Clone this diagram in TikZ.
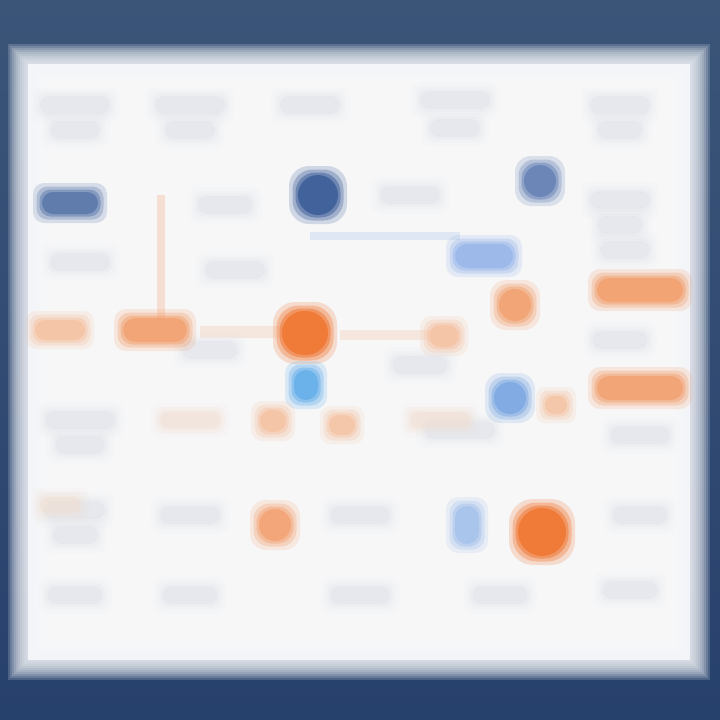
\documentclass[tikz,border=0pt]{standalone}
\usetikzlibrary{shadings}
\definecolor{frameTop}{HTML}{3B5579}
\definecolor{frameBot}{HTML}{27416D}
\definecolor{panel}{HTML}{F4F5F8}
\definecolor{ghost}{HTML}{DCE0E9}
\definecolor{ghostO}{HTML}{F1DDD0}
\definecolor{navy}{HTML}{40609A}
\definecolor{navyL}{HTML}{5B79AC}
\definecolor{navyM}{HTML}{6884B6}
\definecolor{skyA}{HTML}{9BB9EA}
\definecolor{skyB}{HTML}{6AB2EA}
\definecolor{skyC}{HTML}{7EAAE2}
\definecolor{skyD}{HTML}{A9C4EC}
\definecolor{orA}{HTML}{F07A38}
\definecolor{orB}{HTML}{F2A374}
\definecolor{orC}{HTML}{F5C3A4}
\tikzset{
  soft/.style={inner sep=0pt, draw=none, rounded corners=#1},
}
% \sblob{name}{x}{y}{w}{h}{colour}{strength}
\newcommand\sblob[7]{%
  \pgfmathsetmacro\rr{min(#4,#5)/2}%
  \node[soft=\rr pt, fill=#6, opacity=0.10*#7, minimum width=#4pt+18pt, minimum height=#5pt+18pt] at (#2,#3) {};
  \node[soft=\rr pt, fill=#6, opacity=0.16*#7, minimum width=#4pt+11pt, minimum height=#5pt+11pt] at (#2,#3) {};
  \node[soft=\rr pt, fill=#6, opacity=0.25*#7, minimum width=#4pt+5pt, minimum height=#5pt+5pt] at (#2,#3) {};
  \node[soft=\rr pt, fill=#6, opacity=0.45*#7, minimum width=#4pt, minimum height=#5pt] (#1) at (#2,#3) {};
}
\begin{document}
\begin{tikzpicture}[x=1pt,y=-1pt]
\useasboundingbox (0,0) rectangle (720,720);
% frame
\shade[top color=frameTop, bottom color=frameBot] (0,0) rectangle (720,720);
% panel with soft edge
\foreach \i in {0,...,9}{
  \fill[panel, opacity=0.18] (8+2*\i,44+2*\i) rectangle (710-2*\i,680-2*\i);
}
\fill[panel] (28,64) rectangle (690,660);
\foreach \i in {0,...,6}{
  \fill[white, opacity=0.12] (36+4*\i,72+4*\i) rectangle (682-4*\i,652-4*\i);
}
% faint connectors
\fill[orC, opacity=0.45] (157,195) rectangle (165,320);
\fill[skyD, opacity=0.3] (310,232) rectangle (460,240);
\fill[orC, opacity=0.3] (200,326) rectangle (290,338);
\fill[orC, opacity=0.3] (340,330) rectangle (430,340);
% ghost text blobs
\foreach \x/\y/\w in {75/105/70,75/130/50,190/105/70,190/130/50,310/105/60,455/100/70,455/128/50,620/105/60,620/130/45,
  225/205/55,410/195/60,620/200/60,620/225/45,
  80/262/60,235/270/60,625/250/50,
  210/350/55,420/365/55,620/340/55,
  80/420/70,80/445/50,460/430/70,640/435/60,
  75/510/60,75/535/45,190/515/60,360/515/60,640/515/55,
  75/595/55,190/595/55,360/595/60,500/595/55,630/590/55}{
  \sblob{g}{\x}{\y}{\w}{18}{ghost}{0.8}
}
\sblob{g1}{190}{420}{60}{16}{ghostO}{0.9}
\sblob{g2}{440}{420}{60}{16}{ghostO}{0.9}
\sblob{g3}{60}{505}{40}{16}{ghostO}{0.9}
% coloured elements
\sblob{a1}{70}{203}{56}{22}{navyL}{2}
\sblob{a2}{318}{195}{40}{40}{navy}{2.1}
\sblob{a3}{540}{181}{32}{32}{navyM}{2}
\sblob{a4}{484}{256}{58}{24}{skyA}{2.1}
\sblob{b1}{640}{290}{86}{24}{orB}{2.1}
\sblob{b2}{640}{388}{86}{24}{orB}{2}
\sblob{b3}{515}{305}{32}{32}{orB}{2}
\sblob{b4}{60}{330}{50}{20}{orC}{1.8}
\sblob{b5}{155}{330}{64}{24}{orB}{2}
\sblob{b6}{305}{333}{46}{44}{orA}{2.2}
\sblob{b7}{444}{336}{30}{22}{orC}{1.8}
\sblob{c1}{306}{385}{24}{30}{skyB}{2.1}
\sblob{c2}{510}{398}{32}{32}{skyC}{2}
\sblob{c3}{556}{405}{22}{18}{orC}{1.7}
\sblob{c4}{273}{421}{26}{22}{orC}{1.8}
\sblob{c5}{342}{425}{26}{20}{orC}{1.7}
\sblob{d1}{275}{525}{32}{32}{orB}{1.9}
\sblob{d2}{467}{525}{24}{38}{skyD}{2}
\sblob{d3}{542}{532}{48}{48}{orA}{2.2}
\end{tikzpicture}
\end{document}
